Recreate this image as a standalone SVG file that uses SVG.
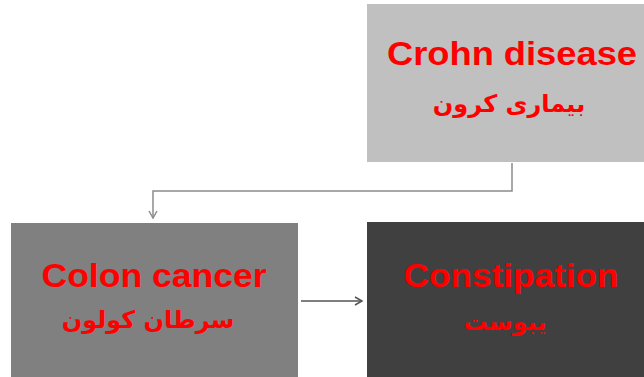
<svg xmlns="http://www.w3.org/2000/svg" width="644" height="377" viewBox="0 0 644 377">
<style>
.en{font-family:"Liberation Sans",Arial,sans-serif;font-weight:bold;font-size:34px;fill:#ff0000;text-anchor:middle}
.fa{font-family:"DejaVu Sans","Noto Sans",sans-serif;font-weight:bold;font-size:24px;fill:#ff0000;text-anchor:middle}
.conn{fill:none;stroke-width:1.5}
</style>
<defs>
<marker id="ah1" markerWidth="10" markerHeight="10" refX="8" refY="5" orient="auto" markerUnits="userSpaceOnUse">
<path d="M1,1 L8,5 L1,9" fill="none" stroke="#8c8c8c" stroke-width="1.5"/>
</marker>
<marker id="ah2" markerWidth="10" markerHeight="10" refX="8" refY="5" orient="auto" markerUnits="userSpaceOnUse">
<path d="M1,1 L8,5 L1,9" fill="none" stroke="#555555" stroke-width="1.5"/>
</marker>
</defs>
<rect width="644" height="377" fill="#ffffff"/>
<g id="crohn">
<rect x="367" y="4" width="277" height="158" fill="#c0c0c0"/>
<text class="en" x="512" y="65" textLength="250" lengthAdjust="spacingAndGlyphs">Crohn disease</text>
<text class="fa" x="509" y="112" direction="rtl">بیماری کرون</text>
</g>
<g id="colon">
<rect x="11" y="223" width="287" height="154" fill="#808080"/>
<text class="en" x="154" y="287" textLength="225" lengthAdjust="spacingAndGlyphs">Colon cancer</text>
<text class="fa" x="148" y="328" direction="rtl">سرطان کولون</text>
</g>
<g id="constipation">
<rect x="367" y="222" width="277" height="155" fill="#404040"/>
<text class="en" x="511" y="287" textLength="215" lengthAdjust="spacingAndGlyphs">Constipation</text>
<text class="fa" x="505" y="330" direction="rtl">یبوست</text>
</g>
<g id="connectors">
<path class="conn" d="M512,163 V191 H153 V218" stroke="#8c8c8c" marker-end="url(#ah1)"/>
<path class="conn" d="M301,301 H362" stroke="#555555" marker-end="url(#ah2)"/>
</g>
</svg>
